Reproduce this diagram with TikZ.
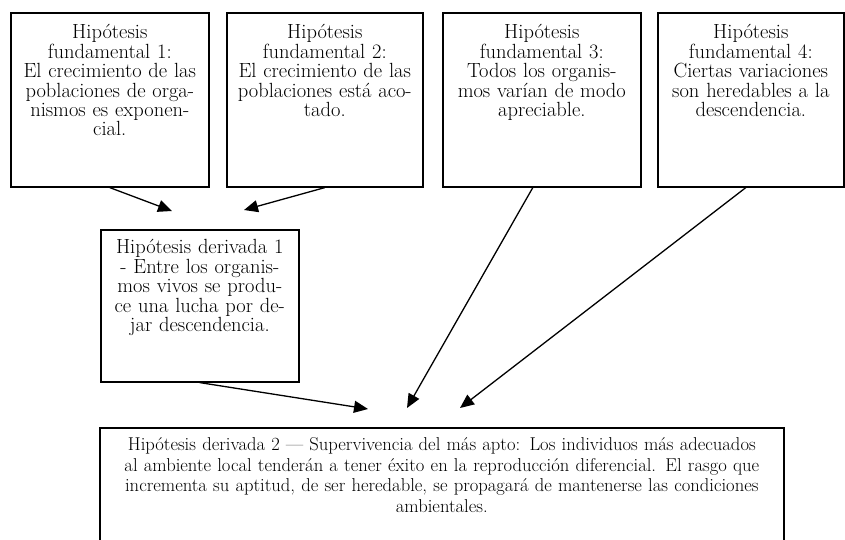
\documentclass[tikz,border=0pt]{standalone}
\usepackage{tikz}
\usetikzlibrary{arrows.meta,positioning}

\begin{document}
\begin{tikzpicture}[
  x=1pt, y=-1pt,
  hyp/.style={draw, line width=1.6pt, align=center, inner xsep=3pt, inner ysep=0pt,
    font=\fontsize{20.5}{19.4}\selectfont, text height=26pt},
  arrow/.style={-{Triangle[length=14pt, width=12pt]}, line width=1.3pt},
]
\useasboundingbox (0,0) rectangle (845,539);

% fundamental hypotheses
\node[hyp, text width=192pt, text depth=148pt, anchor=north west] (f1) at (10,12)
  {Hipótesis\\ fundamental 1:\\ El crecimiento de las\\ poblaciones de orga-\\ nismos es exponen-\\ cial.};
\node[hyp, text width=190pt, text depth=148pt, right=16.4pt of f1] (f2)
  {Hipótesis\\ fundamental 2:\\ El crecimiento de las\\ poblaciones está aco-\\ tado.};
\node[hyp, text width=192pt, text depth=148pt, right=18.4pt of f2] (f3)
  {Hipótesis\\ fundamental 3:\\ Todos los organis-\\ mos varían de modo\\ apreciable.};
\node[hyp, text width=180pt, text depth=148pt, right=15.4pt of f3] (f4)
  {Hipótesis\\ fundamental 4:\\ Ciertas variaciones\\ son heredables a la\\ descendencia.};

% derived hypotheses
\node[hyp, text width=192pt, text height=24pt, text depth=128pt, anchor=north west] (d1) at (100,229)
  {Hipótesis derivada 1\\ - Entre los organis-\\ mos vivos se produ-\\ ce una lucha por de-\\ jar descendencia.};
\node[hyp, text width=678pt, text height=23pt, text depth=200pt, anchor=north west,
  font=\fontsize{18.6}{20.5}\selectfont] (d2) at (99,427)
  {Hipótesis derivada 2 — Supervivencia del más apto: Los individuos más adecuados\\
   al ambiente local tenderán a tener éxito en la reproducción diferencial. El rasgo que\\
   incrementa su aptitud, de ser heredable, se propagará de mantenerse las condiciones\\
   ambientales.};

% arrow ends
\coordinate (t1) at (172,211);
\coordinate (t2) at (244,210);
\coordinate (t3) at (368,409);
\coordinate (t4) at (407,408);
\coordinate (t5) at (460,408);

\draw[arrow] (f1.south) -- (t1);
\draw[arrow] (f2.south) -- (t2);
\draw[arrow] (d1.south) -- (t3);
\draw[arrow] ([xshift=-9pt]f3.south) -- (t4);
\draw[arrow] ([xshift=-5pt]f4.south) -- (t5);

\end{tikzpicture}
\end{document}
